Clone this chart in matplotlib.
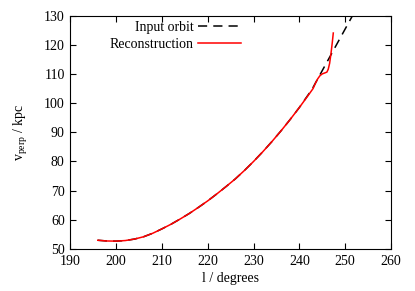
import numpy as np
import matplotlib.pyplot as plt

plt.rcParams['font.family'] = ['Liberation Serif', 'DejaVu Serif']
plt.rcParams['mathtext.fontset'] = 'custom'
plt.rcParams['mathtext.rm'] = 'Liberation Serif'
plt.rcParams['mathtext.it'] = 'Liberation Serif:italic'

# input orbit (longitude in degrees, perpendicular distance in kpc)
orbit_l = [196, 198, 200, 202, 204, 206, 208, 210, 212, 214, 216, 218, 220,
           222, 224, 226, 228, 230, 232, 234, 236, 238, 240, 242, 243,
           244, 246, 248, 250, 252]
orbit_v = [53.0, 52.75, 52.7, 52.9, 53.4, 54.2, 55.4, 56.9, 58.5, 60.3, 62.2,
           64.3, 66.5, 68.9, 71.4, 74.0, 76.9, 80.0, 83.3, 86.8, 90.5, 94.4,
           98.5, 103.0, 105.4, 108.3, 114.0, 119.7, 125.4, 131.1]

# reconstruction
rec_l = [196, 198, 200, 202, 204, 206, 208, 210, 212, 214, 216, 218, 220,
         222, 224, 226, 228, 230, 232, 234, 236, 238, 240, 242, 243,
         243.5, 244, 244.5, 245, 245.5, 246.0, 246.3, 246.6, 246.9, 247.2, 247.4]
rec_v = [53.0, 52.75, 52.7, 52.9, 53.4, 54.2, 55.4, 56.9, 58.5, 60.3, 62.2,
         64.3, 66.5, 68.9, 71.4, 74.0, 76.9, 80.0, 83.3, 86.8, 90.5, 94.4,
         98.5, 102.8, 105.0, 106.8, 108.3, 109.4, 110.0, 110.3, 110.6, 111.6,
         113.6, 117.0, 121.0, 124.0]

fig = plt.figure(figsize=(4.15, 2.91), dpi=100)
ax = fig.add_axes([0.1694, 0.1443, 0.7728, 0.8024])

ax.plot(orbit_l, orbit_v, color='black', lw=1.1, dashes=(6, 4),
        label='Input orbit')
ax.plot(rec_l, rec_v, color='red', lw=1.1, label='Reconstruction')

ax.set_xlim(190, 260)
ax.set_ylim(50, 130)
ax.set_xticks(np.arange(190, 261, 10))
ax.set_yticks(np.arange(50, 131, 10))
ax.tick_params(direction='in', top=True, right=True, labelsize=10,
               length=4, width=0.8, pad=4)
for s in ax.spines.values():
    s.set_linewidth(0.8)

ax.set_xlabel('l / degrees', fontsize=10, labelpad=3)
ax.set_ylabel(r'v$_{\rm perp}$ / kpc', fontsize=10, labelpad=10)

ax.legend(loc='upper right', bbox_to_anchor=(0.532, 0.975), frameon=False,
          markerfirst=False, fontsize=10, handlelength=3.1,
          handletextpad=0.3, labelspacing=0.25, borderaxespad=0.0,
          borderpad=0.0)

fig.savefig('out.png', dpi=100)
